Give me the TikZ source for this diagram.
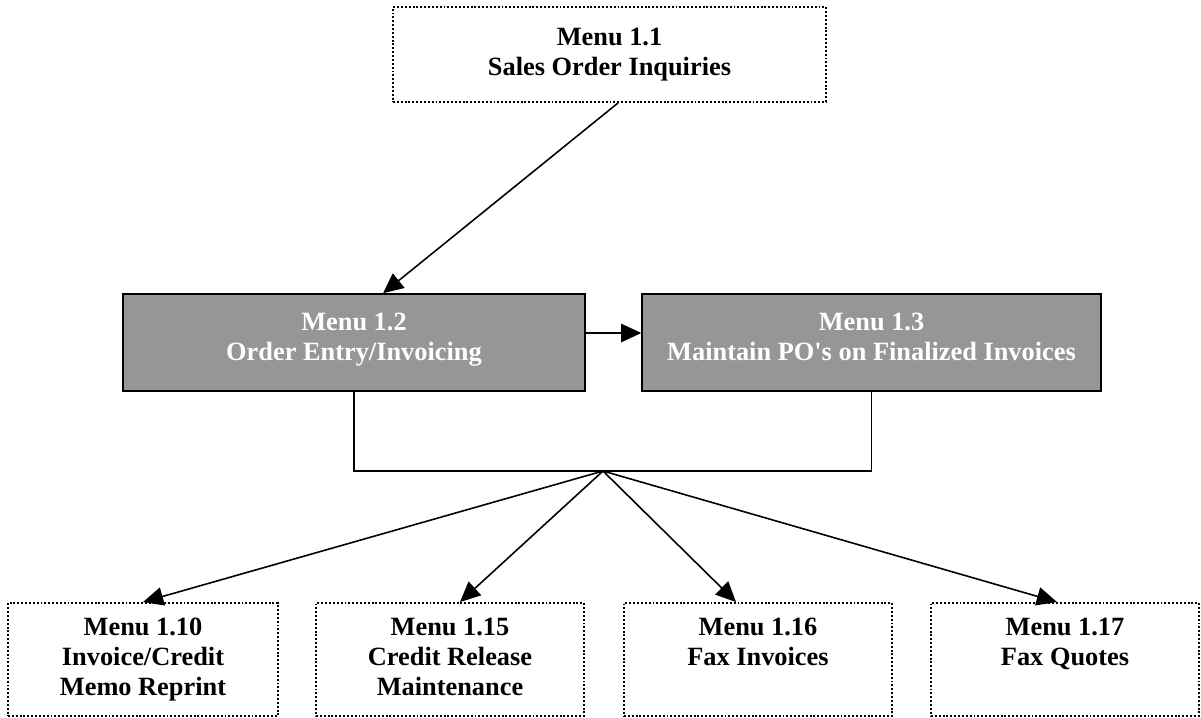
\documentclass[tikz,border=0pt]{standalone}
\usepackage{fontspec}
\setmainfont{Liberation Serif}
\usepackage{xcolor}
\usepackage{tikz}
\usetikzlibrary{calc,arrows.meta,positioning}
\definecolor{boxgray}{RGB}{150,150,150}

\begin{document}
\begin{tikzpicture}[
  font=\fontsize{15}{17}\selectfont\bfseries,
  dotbox/.style={draw,line width=1.1pt,dash pattern=on 1.1pt off 1.1pt,align=center,inner sep=0pt},
  greybox/.style={draw,fill=boxgray,text=white,line width=0.8pt,align=center,inner sep=0pt},
  arr/.style={line width=0.9pt,-{Triangle[length=11.5pt,width=10.5pt]}}]
\useasboundingbox (0,0) rectangle (24.02,-14.34);
% top menu
\node[dotbox,minimum width=8.66cm,minimum height=1.9cm] (m11) at (12.19,-1.09) {Menu 1.1\\Sales Order Inquiries};
% middle row
\node[greybox,minimum width=9.24cm,minimum height=1.94cm] (m12) at (7.08,-6.85) {Menu 1.2\\Order Entry/Invoicing\\[-10pt]};
\node[greybox,minimum width=9.18cm,minimum height=1.94cm] (m13) at (17.43,-6.85) {Menu 1.3\\Maintain PO\textquotesingle s on Finalized Invoices\\[-10pt]};
% bottom row
\node[dotbox,minimum width=5.4cm,minimum height=2.26cm] (m110) at (2.86,-13.19) {\strut Menu 1.10\\\strut Invoice/Credit\\\strut Memo Reprint};
\node[dotbox,minimum width=5.36cm,minimum height=2.26cm] (m115) at (9.0,-13.19) {\strut Menu 1.15\\\strut Credit Release\\\strut Maintenance};
\node[dotbox,minimum width=5.36cm,minimum height=2.26cm] (m116) at (15.16,-13.19) {\strut Menu 1.16\\\strut Fax Invoices\\\strut};
\node[dotbox,minimum width=5.36cm,minimum height=2.26cm] (m117) at (21.3,-13.19) {\strut Menu 1.17\\\strut Fax Quotes\\\strut};
\coordinate (hub) at (12.06,-9.42);
% connectors
\draw[arr] ([xshift=0.17cm]m11.south) -- ([xshift=0.58cm]m12.north);
\draw[arr] ([yshift=0.19cm]m12.east) -- ([yshift=0.19cm]m13.west);
\draw[line width=0.9pt] (m12.south) |- (hub) -| (m13.south);
\draw[arr] (hub) -- (m110.north);
\draw[arr] (hub) -- ([xshift=0.2cm]m115.north);
\draw[arr] (hub) -- ([xshift=-0.44cm]m116.north);
\draw[arr] (hub) -- ([xshift=-0.16cm]m117.north);
\end{tikzpicture}
\end{document}
